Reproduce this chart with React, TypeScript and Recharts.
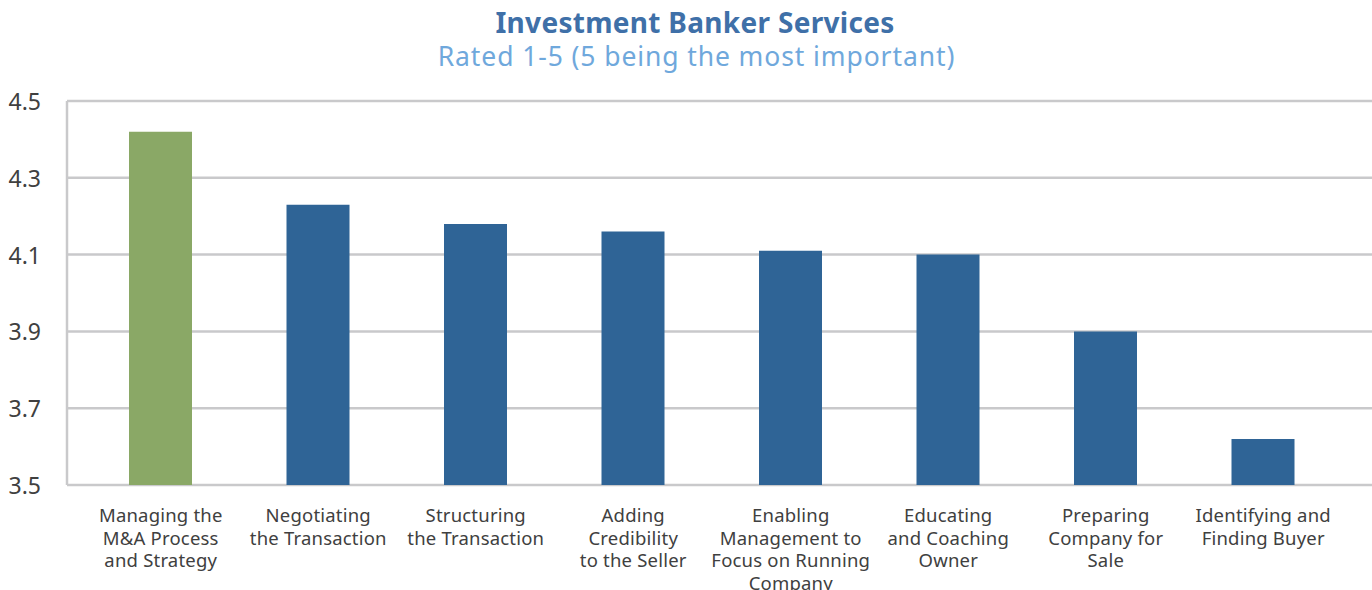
import { BarChart, Bar, XAxis, YAxis, CartesianGrid, Cell } from 'recharts';

const categories = [
  'Managing the\nM&A Process\nand Strategy',
  'Negotiating\nthe Transaction',
  'Structuring\nthe Transaction',
  'Adding\nCredibility\nto the Seller',
  'Enabling\nManagement to\nFocus on Running\nCompany',
  'Educating\nand Coaching\nOwner',
  'Preparing\nCompany for\nSale',
  'Identifying and\nFinding Buyer',
];
const ratings = [4.42, 4.23, 4.18, 4.16, 4.11, 4.1, 3.9, 3.62];
const yTicks = [3.5, 3.7, 3.9, 4.1, 4.3, 4.5];

const FONT = '"Noto Sans", "Open Sans", sans-serif';
const GRID = '#c9c9cb';
const GREEN = '#8aa866';
const BLUE = '#2f6496';

const data = categories.map((name, i) => ({ name, value: ratings[i] }));

const XTick = ({ x, y, payload }: any) => {
  const lines = String(payload.value).split('\n');
  return (
    <text x={x} y={y} textAnchor="middle" fill="#404040" fontSize={18.5} fontFamily={FONT} letterSpacing={0.2}>
      {lines.map((l, i) => (
        <tspan key={i} x={x} dy={i === 0 ? 29 : 22.5}>
          {l}
        </tspan>
      ))}
    </text>
  );
};

const YTick = ({ y, payload }: any) => (
  <text x={41} y={y} dy={9} textAnchor="end" fill="#404040" fontSize={23} fontFamily={FONT}>
    {Number(payload.value).toFixed(1)}
  </text>
);

const App = () => {
  return (
    <div style={{ position: 'absolute', left: 0, top: 0, width: 1372, height: 590, background: '#fff' }}>
      <div
        style={{
          position: 'absolute',
          left: 0,
          width: 1390,
          top: 3,
          textAlign: 'center',
          fontFamily: FONT,
          fontWeight: 700,
          fontSize: 28,
          letterSpacing: 0.3,
          color: '#3f70a8',
        }}
      >
        Investment Banker Services
      </div>
      <div
        style={{
          position: 'absolute',
          left: 0,
          width: 1393,
          top: 38,
          textAlign: 'center',
          fontFamily: FONT,
          fontSize: 26.5,
          letterSpacing: 0.9,
          color: '#6fa8dc',
        }}
      >
        Rated 1-5 (5 being the most important)
      </div>
      <BarChart
        width={1372}
        height={590}
        data={data}
        margin={{ top: 101, right: 0, left: 0, bottom: 0 }}
        barCategoryGap={0}
      >
        <CartesianGrid vertical={false} stroke={GRID} strokeWidth={2.5} />
        <XAxis
          dataKey="name"
          height={105}
          interval={0}
          tickLine={false}
          axisLine={false}
          padding={{ left: 15, right: 30 }}
          tick={<XTick />}
        />
        <YAxis
          width={67}
          domain={[3.5, 4.5]}
          ticks={yTicks}
          allowDataOverflow
          tickLine={false}
          axisLine={{ stroke: GRID, strokeWidth: 2.5 }}
          tick={<YTick />}
        />
        <Bar dataKey="value" barSize={63} isAnimationActive={false}>
          {data.map((_, i) => (
            <Cell key={`cell-${i}`} fill={i === 0 ? GREEN : BLUE} />
          ))}
        </Bar>
      </BarChart>
    </div>
  );
};

export default App;
